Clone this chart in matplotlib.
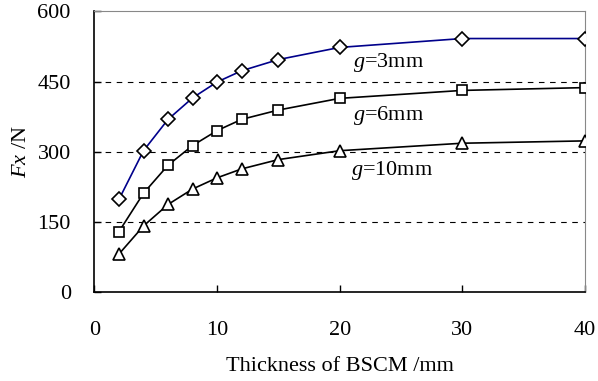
import matplotlib
matplotlib.use("Agg")
import matplotlib.pyplot as plt

plt.rcParams['font.family'] = ['Liberation Serif', 'DejaVu Serif']
plt.rcParams['mathtext.fontset'] = 'custom'
plt.rcParams['mathtext.it'] = 'Liberation Serif:italic'
plt.rcParams['mathtext.rm'] = 'Liberation Serif'

thickness = [2, 4, 6, 8, 10, 12, 15, 20, 30, 40]
fx_g3 = [198, 302, 369, 415, 449, 473, 497, 523, 542, 542]
fx_g6 = [129, 211, 271, 313, 345, 369, 389, 414, 431, 437]
fx_g10 = [81, 141, 187, 220, 244, 263, 283, 302, 318, 323]

labels = ["g=3mm", "g=6mm", "g=10mm"]
label_pos = [(21.1, 491), (21.1, 378), (20.9, 259)]

fig = plt.figure(figsize=(5.98, 3.81), dpi=100)
ax = fig.add_axes([0.158, 0.234, 0.820, 0.736])

for yv in [150, 300, 450]:
    ax.axhline(yv, color="black", lw=0.8, ls=(0, (5, 5)), zorder=1)

ax.plot(thickness, fx_g3, color="#00008B", lw=1.2, marker="D", ms=7,
        mfc="white", mec="black", mew=1.2, zorder=3)
ax.plot(thickness, fx_g6, color="black", lw=1.2, marker="s", ms=7.5,
        mfc="white", mec="black", mew=1.2, zorder=3)
ax.plot(thickness, fx_g10, color="black", lw=1.2, marker="^", ms=8.5,
        mfc="white", mec="black", mew=1.2, zorder=3)

for lab, (lx, ly) in zip(labels, label_pos):
    g, rest = lab.split("=")
    ax.text(lx, ly, r"$g$=" + rest, fontsize=16, va="center", ha="left")

ax.set_xlim(0, 40)
ax.set_ylim(0, 600)
ax.set_xticks([0, 10, 20, 30, 40])
ax.set_yticks([0, 150, 300, 450, 600])
ax.tick_params(direction="in", labelsize=16, length=5, width=1)
ax.tick_params(axis="x", pad=21)
ax.tick_params(axis="y", pad=17)
ax.spines["top"].set_color("#888888")
ax.spines["right"].set_color("#888888")
ax.spines["left"].set_linewidth(1.2)
ax.spines["bottom"].set_linewidth(1.2)

ax.set_xlabel("Thickness of BSCM /mm", fontsize=16, labelpad=12)
ax.set_ylabel(r"$Fx$ /N", fontsize=16, labelpad=5)

fig.savefig("out.png", dpi=100)
